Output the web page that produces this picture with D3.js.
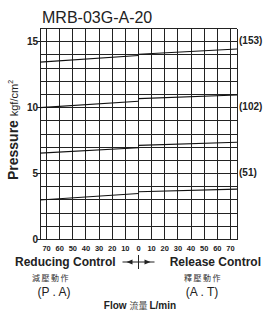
<!DOCTYPE html>
<html>
<head>
<meta charset="utf-8">
<script src="https://cdn.jsdelivr.net/npm/d3@7"></script>
<style>
  body { margin: 0; background: #fff; }
  svg { display: block; font-family: "Liberation Sans", Arial, sans-serif; }
</style>
</head>
<body>
<svg id="chart" width="265" height="314"></svg>
<script>
// flow ticks (L/min), left side is reducing, right side is release
var flowTicks = [-70, -60, -50, -40, -30, -20, -10, 0, 10, 20, 30, 40, 50, 60, 70];
var flowLeft = [-75, 0];
var flowRight = [0, 75];
// pressure at start / end of each segment, kgf/cm2
var reducing = [[13.45, 13.95], [10.0, 10.48], [6.55, 6.96], [3.0, 3.49]];
var release = [[14.05, 14.45], [10.68, 10.96], [7.14, 7.37], [3.62, 3.82]];
var pressureTicks = [0, 5, 10, 15];
var rightLabels = [[15, "(153)"], [10, "(102)"], [5, "(51)"]];

var svg = d3.select("#chart");
var x = d3.scaleLinear().domain([-75, 75]).range([40, 237]);
var y = d3.scaleLinear().domain([0, 16]).range([239.5, 28.5]);

// grid
var grid = svg.append("g")
    .attr("stroke", "#222")
    .attr("stroke-width", 1)
    .attr("shape-rendering", "crispEdges");
grid.selectAll("line.h")
    .data(d3.range(0, 17))
    .enter().append("line")
    .attr("x1", function (d) { return pressureTicks.indexOf(d) >= 0 ? x(-75) - 3 : x(-75); })
    .attr("x2", x(75))
    .attr("y1", function (d) { return y(d); })
    .attr("y2", function (d) { return y(d); });
grid.selectAll("line.v")
    .data([-75].concat(flowTicks, [75]))
    .enter().append("line")
    .attr("x1", function (d) { return x(d); })
    .attr("x2", function (d) { return x(d); })
    .attr("y1", y(0))
    .attr("y2", y(16));

// curves, two segments with a step at zero flow
var line = d3.line()
    .x(function (d) { return x(d[0]); })
    .y(function (d) { return y(d[1]); });
var segs = [];
reducing.forEach(function (p) { segs.push([[flowLeft[0], p[0]], [flowLeft[1], p[1]]]); });
release.forEach(function (p) { segs.push([[flowRight[0], p[0]], [flowRight[1], p[1]]]); });
svg.append("g").selectAll("path")
    .data(segs)
    .enter().append("path")
    .attr("d", line)
    .attr("fill", "none")
    .attr("stroke", "#111")
    .attr("stroke-width", 1.1);

// y labels
svg.append("g").selectAll("text")
    .data(pressureTicks)
    .enter().append("text")
    .attr("x", x(-75) - 2)
    .attr("y", function (d) { return y(d) + 3.5; })
    .attr("text-anchor", "end")
    .attr("font-size", 10)
    .attr("font-weight", "bold")
    .attr("fill", "#222")
    .text(function (d) { return d; });

svg.append("g").selectAll("text")
    .data(rightLabels)
    .enter().append("text")
    .attr("x", x(75) + 2)
    .attr("y", function (d) { return y(d[0]) + 2; })
    .attr("font-size", 10)
    .attr("font-weight", "bold")
    .attr("fill", "#222")
    .text(function (d) { return d[1]; });

// x labels
svg.append("g").selectAll("text")
    .data(flowTicks)
    .enter().append("text")
    .attr("x", function (d) { return x(d); })
    .attr("y", 251)
    .attr("text-anchor", "middle")
    .attr("font-size", 7.5)
    .attr("font-weight", "bold")
    .attr("fill", "#222")
    .text(function (d) { return Math.abs(d); });

// title
svg.append("text")
    .attr("x", 42).attr("y", 23)
    .attr("font-size", 16)
    .attr("fill", "#222")
    .text("MRB-03G-A-20");

// y title
var yt = svg.append("text")
    .attr("transform", "translate(18,130) rotate(-90)")
    .attr("text-anchor", "middle")
    .attr("fill", "#222");
yt.append("tspan").attr("font-size", 14).attr("font-weight", "bold").text("Pressure ");
yt.append("tspan").attr("font-size", 11).text("kgf/cm");
yt.append("tspan").attr("font-size", 7).attr("dy", -5).text("2");

// direction labels
svg.append("text").attr("x", 15).attr("y", 266)
    .attr("font-size", 12).attr("font-weight", "bold").attr("fill", "#222")
    .text("Reducing Control");
svg.append("text").attr("x", 261).attr("y", 266)
    .attr("text-anchor", "end")
    .attr("font-size", 12).attr("font-weight", "bold").attr("fill", "#222")
    .text("Release Control");

var ay = 262, cx = x(0);
var arrows = svg.append("g").attr("stroke", "#222").attr("fill", "#222");
arrows.append("line").attr("x1", cx - 16).attr("x2", cx + 16).attr("y1", ay).attr("y2", ay).attr("stroke-width", 1.2);
arrows.append("line").attr("x1", cx).attr("x2", cx).attr("y1", ay - 7).attr("y2", ay + 7).attr("stroke-width", 1);
arrows.append("path").attr("stroke", "none")
    .attr("d", "M" + (cx - 12) + "," + ay + "l6,-2.5v5z");
arrows.append("path").attr("stroke", "none")
    .attr("d", "M" + (cx + 12) + "," + ay + "l-6,-2.5v5z");

svg.append("text").attr("x", 51).attr("y", 281)
    .attr("text-anchor", "middle")
    .attr("font-family", "'Noto Sans CJK TC', sans-serif")
    .attr("font-size", 8).attr("letter-spacing", 1.5).attr("fill", "#333")
    .text("減壓動作");
svg.append("text").attr("x", 203).attr("y", 281)
    .attr("text-anchor", "middle")
    .attr("font-family", "'Noto Sans CJK TC', sans-serif")
    .attr("font-size", 8).attr("letter-spacing", 1.5).attr("fill", "#333")
    .text("釋壓動作");
svg.append("text").attr("x", 54).attr("y", 296)
    .attr("text-anchor", "middle").attr("font-size", 12).attr("fill", "#222")
    .text("(P . A)");
svg.append("text").attr("x", 202).attr("y", 296)
    .attr("text-anchor", "middle").attr("font-size", 12).attr("fill", "#222")
    .text("(A . T)");

var ft = svg.append("text").attr("x", 140).attr("y", 309)
    .attr("text-anchor", "middle").attr("font-size", 10).attr("fill", "#222");
ft.append("tspan").attr("font-weight", "bold").text("Flow ");
ft.append("tspan").attr("font-family", "'Noto Sans CJK TC', sans-serif").attr("font-size", 9).attr("fill", "#444").text("流量 ");
ft.append("tspan").attr("font-weight", "bold").text("L/min");
</script>
</body>
</html>
